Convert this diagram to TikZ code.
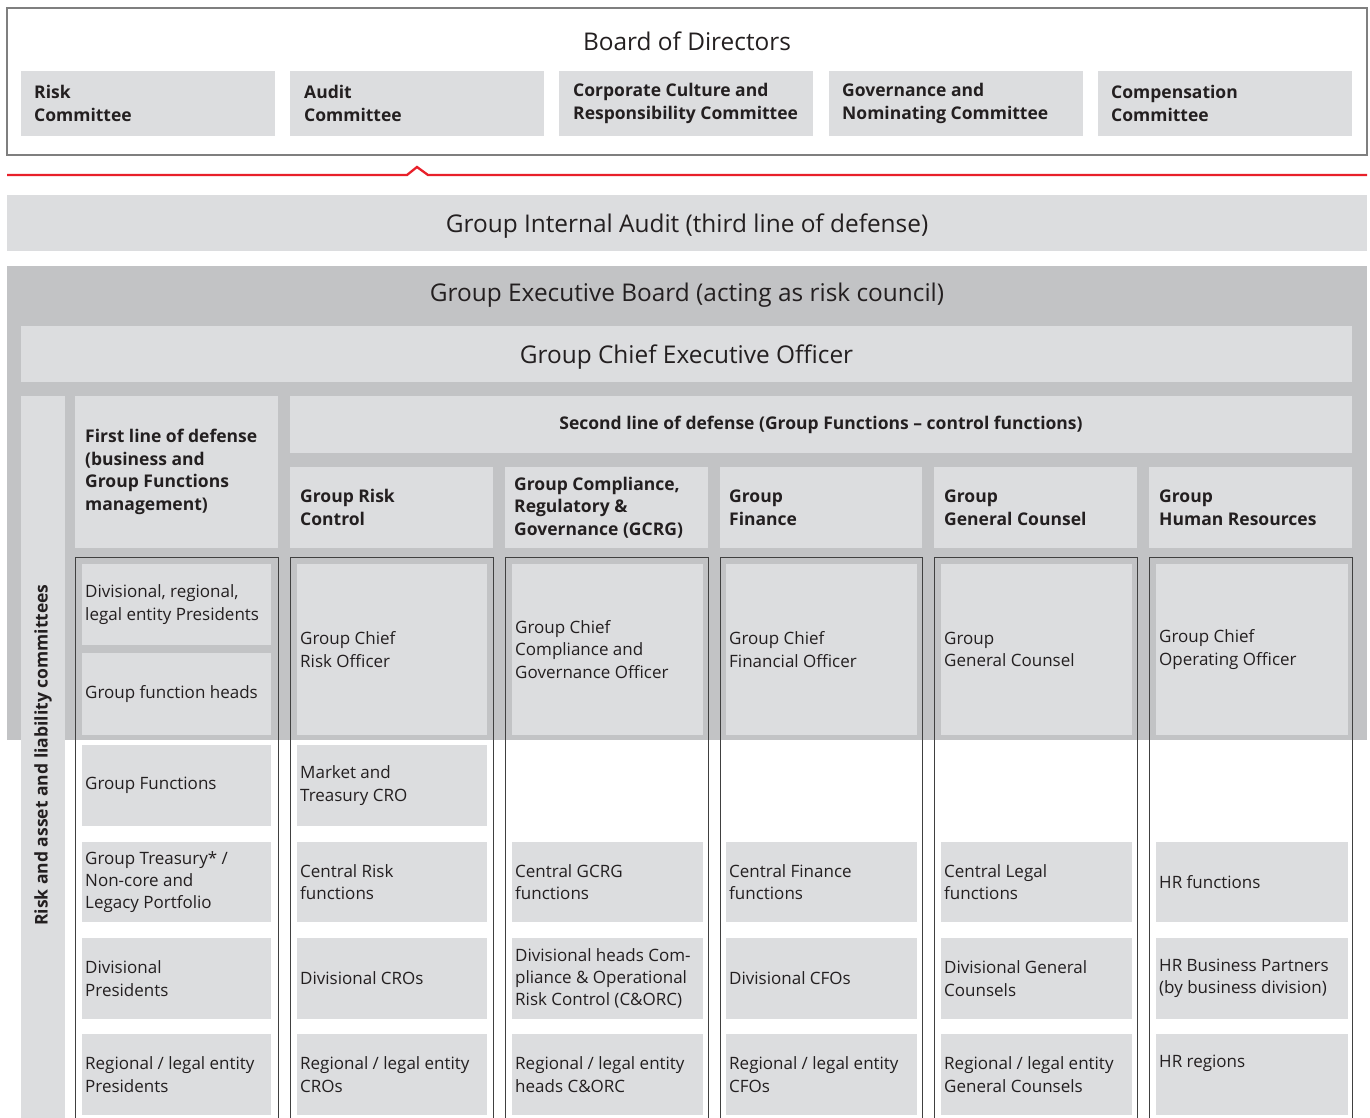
\documentclass[tikz,border=0pt]{standalone}
\usepackage{fontspec}
\setmainfont{Open Sans}
\definecolor{lightg}{HTML}{DCDDDF}
\definecolor{darkg}{HTML}{C2C3C5}
\definecolor{txt}{HTML}{231F20}
\definecolor{redl}{HTML}{E8202A}
\definecolor{framec}{HTML}{404040}
\definecolor{boardc}{HTML}{7F7F7F}
\newcommand\mybox[5]{\node[box, minimum width={#4-#2}, minimum height={#5-#3}] (#1) at (#2,#3) {};}
\newcommand\bodycell[6]{\mybox{#1}{#2}{#3}{#4}{#5}\node[bodytext] (#1t) at ([xshift=3pt]#1.west) {#6};}
\begin{document}
\begin{tikzpicture}[x=1pt,y=-1pt,
  box/.style={fill=lightg, draw=none, inner sep=0pt, outer sep=0pt, anchor=north west},
  bodytext/.style={font=\fontsize{17}{22.3}\selectfont, text=txt, align=left, inner sep=0pt, anchor=west},
  headtext/.style={font=\fontsize{17.5}{22.5}\selectfont\bfseries, text=txt, align=left, inner sep=0pt, anchor=west},
  titletext/.style={font=\fontsize{24.4}{29}\selectfont, text=txt, inner sep=0pt},
  colframe/.style={draw=framec, line width=0.9pt}
]
\useasboundingbox (0,0) rectangle (1370,1118);
% Board of Directors
\node[draw=boardc, line width=1.4pt, anchor=north west, minimum width=1360, minimum height=147, inner sep=0pt, outer sep=0pt] (board) at (7,8) {};
\node[titletext] (boardt) at (687,41) {Board of Directors};
\mybox{c1}{21}{71}{275}{136}
\mybox{c2}{290}{71}{544}{136}
\mybox{c3}{559}{71}{813}{136}
\mybox{c4}{829}{71}{1083}{136}
\mybox{c5}{1098}{71}{1352}{136}
\node[headtext] (c1t) at ([xshift=13pt]c1.west) {Risk\\Committee};
\node[headtext] (c2t) at ([xshift=14pt]c2.west) {Audit\\Committee};
\node[headtext] (c3t) at ([xshift=14pt]c3.west) {Corporate Culture and\\Responsibility Committee};
\node[headtext] (c4t) at ([xshift=13pt]c4.west) {Governance and\\Nominating Committee};
\node[headtext] (c5t) at ([xshift=13pt]c5.west) {Compensation\\Committee};
% red line
\coordinate (r0) at (7,175);
\coordinate (r1) at (407,175);
\coordinate (r2) at (417,167);
\coordinate (r3) at (428,175);
\coordinate (r4) at (1367,175);
\draw[redl, line width=2.3pt, line join=miter] (r0) -- (r1) -- (r2) -- (r3) -- (r4);
% Group Internal Audit
\mybox{gia}{7}{195}{1367}{251}
\node[titletext] (giat) at ([yshift=-3pt]gia.center) {Group Internal Audit (third line of defense)};
% Group Executive Board
\node[box, fill=darkg, minimum width=1360, minimum height=474] (geb) at (7,266) {};
\node[titletext] (gebt) at (687,295) {Group Executive Board (acting as risk council)};
\mybox{ceo}{21}{326}{1352}{382}
\node[titletext] (ceot) at ([yshift=-3pt]ceo.center) {Group Chief Executive Officer};
% risk and asset column
\mybox{ral}{21}{396}{65}{1118}
\node[headtext, rotate=90, anchor=center] (ralt) at (43,755) {Risk and asset and liability committees};
% headers
\mybox{h1}{75}{396}{278}{548}
\node[headtext] (h1t) at ([xshift=10pt]h1.west) {First line of defense\\(business and\\Group Functions\\management)};
\mybox{h2}{290}{396}{1352}{453}
\node[headtext, anchor=center] (h2t) at (h2.center) {Second line of defense (Group Functions – control functions)};
\mybox{s1}{290}{467}{493}{548}
\mybox{s2}{505}{467}{708}{548}
\mybox{s3}{720}{467}{922}{548}
\mybox{s4}{934}{467}{1137}{548}
\mybox{s5}{1149}{467}{1352}{548}
\node[headtext] (s1t) at ([xshift=10pt]s1.west) {Group Risk\\Control};
\node[headtext] (s2t) at ([xshift=9pt]s2.west) {Group Compliance,\\Regulatory \&\\Governance (GCRG)};
\node[headtext] (s3t) at ([xshift=9pt]s3.west) {Group\\Finance};
\node[headtext] (s4t) at ([xshift=10pt]s4.west) {Group\\General Counsel};
\node[headtext] (s5t) at ([xshift=10pt]s5.west) {Group\\Human Resources};
% column frames
\foreach \a/\b/\n in {75/278/f1, 290/493/f2, 505/708/f3, 720/922/f4, 934/1137/f5, 1149/1352/f6}{
  \coordinate (\n a) at (\a,1125);
  \coordinate (\n b) at (\a,557);
  \coordinate (\n c) at (\b,557);
  \coordinate (\n d) at (\b,1125);
  \draw[colframe] (\n a) -- (\n b) -- (\n c) -- (\n d);
}
% column 1
\bodycell{a1}{82}{564}{271}{645}{Divisional, regional,\\legal entity Presidents}
\bodycell{a2}{82}{653}{271}{735}{Group function heads}
\bodycell{a3}{82}{745}{271}{826}{Group Functions}
\bodycell{a4}{82}{842}{271}{922}{Group Treasury* /\\Non-core and\\Legacy Portfolio}
\bodycell{a5}{82}{938}{271}{1019}{Divisional\\Presidents}
\bodycell{a6}{82}{1034}{271}{1115}{Regional / legal entity\\Presidents}
% Group Risk Control
\bodycell{b1}{297}{564}{487}{735}{Group Chief\\Risk Officer}
\bodycell{b3}{297}{745}{487}{826}{Market and\\Treasury CRO}
\bodycell{b4}{297}{842}{487}{922}{Central Risk\\functions}
\bodycell{b5}{297}{938}{487}{1019}{Divisional CROs}
\bodycell{b6}{297}{1034}{487}{1115}{Regional / legal entity\\CROs}
% GCRG
\bodycell{g1}{512}{564}{703}{735}{Group Chief\\Compliance and\\Governance Officer}
\bodycell{g4}{512}{842}{703}{922}{Central GCRG\\functions}
\bodycell{g5}{512}{938}{703}{1019}{Divisional heads Com-\\pliance \& Operational\\Risk Control (C\&ORC)}
\bodycell{g6}{512}{1034}{703}{1115}{Regional / legal entity\\heads C\&ORC}
% Finance
\bodycell{d1}{726}{564}{917}{735}{Group Chief\\Financial Officer}
\bodycell{d4}{726}{842}{917}{922}{Central Finance\\functions}
\bodycell{d5}{726}{938}{917}{1019}{Divisional CFOs}
\bodycell{d6}{726}{1034}{917}{1115}{Regional / legal entity\\CFOs}
% General Counsel
\bodycell{e1}{941}{564}{1132}{735}{Group\\General Counsel}
\bodycell{e4}{941}{842}{1132}{922}{Central Legal\\functions}
\bodycell{e5}{941}{938}{1132}{1019}{Divisional General\\Counsels}
\bodycell{e6}{941}{1034}{1132}{1115}{Regional / legal entity\\General Counsels}
% HR
\bodycell{k1}{1156}{564}{1348}{735}{Group Chief\\Operating Officer}
\bodycell{k4}{1156}{842}{1348}{922}{HR functions}
\bodycell{k5}{1156}{938}{1348}{1019}{HR Business Partners\\(by business division)}
\mybox{k6}{1156}{1034}{1348}{1115}
\node[bodytext] (k6t) at (1159,1063) {HR regions};
\end{tikzpicture}
\end{document}
